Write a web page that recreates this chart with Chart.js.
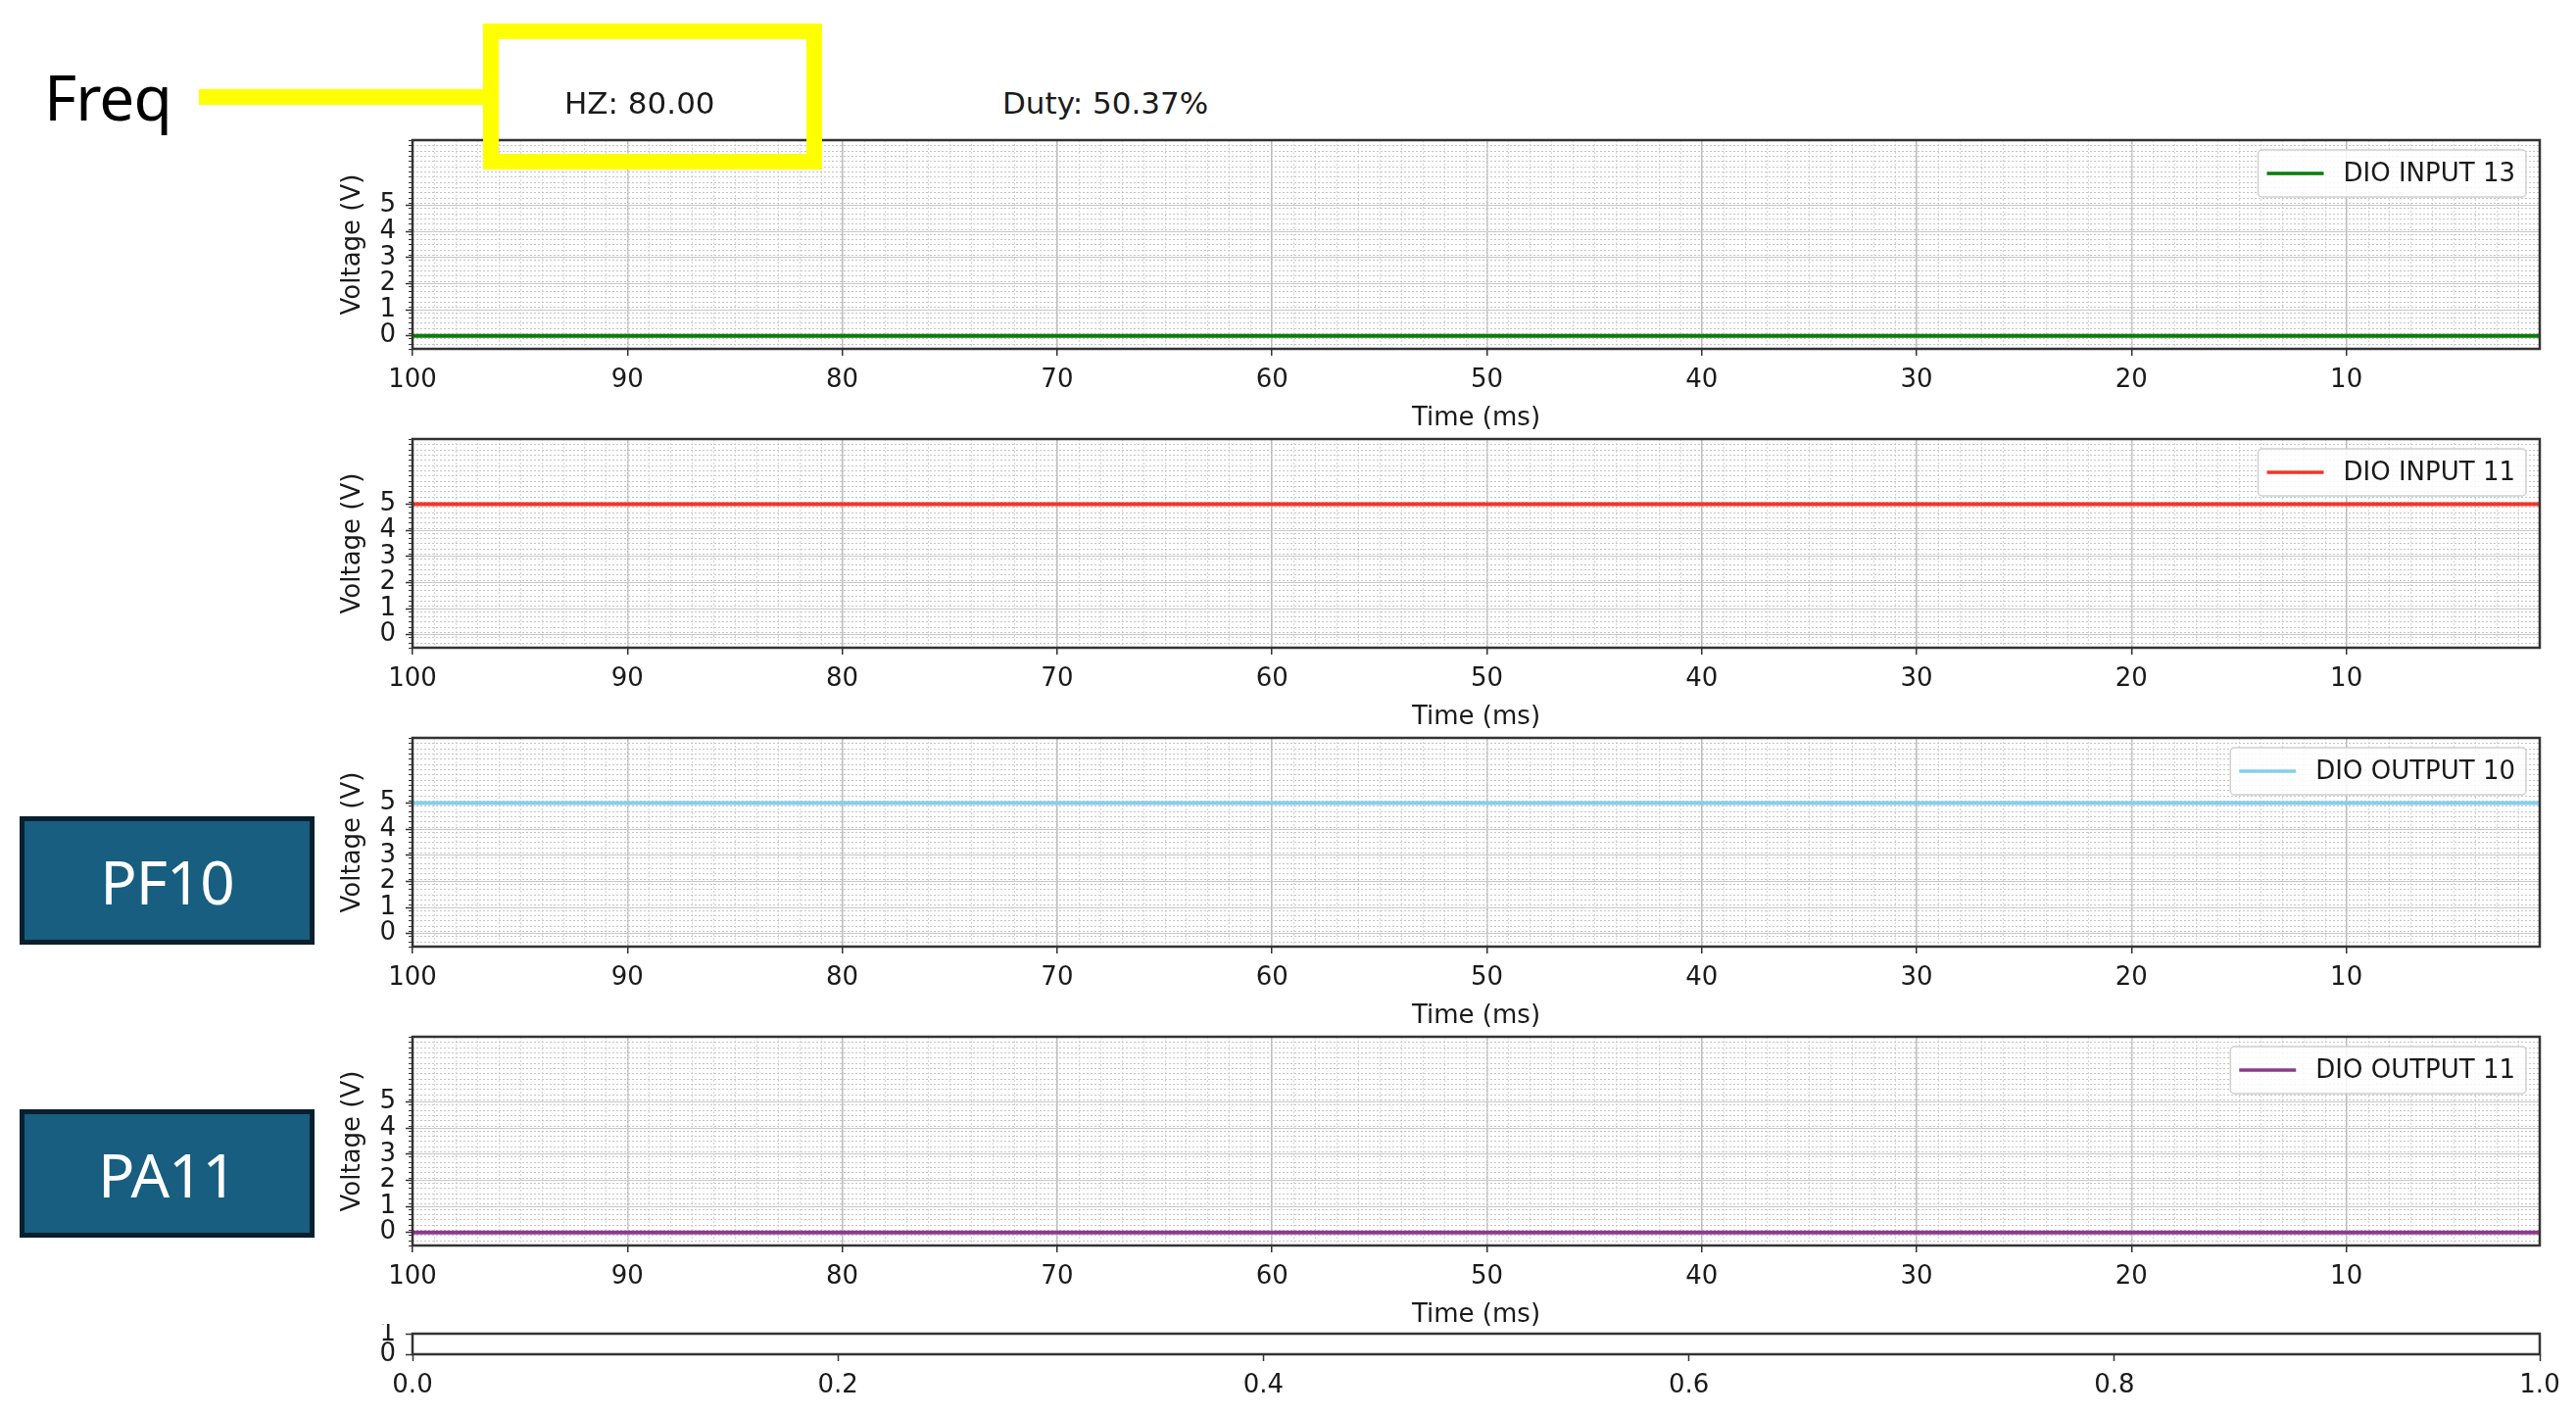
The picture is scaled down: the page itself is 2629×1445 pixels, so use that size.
<!DOCTYPE html>
<html>
<head>
<meta charset="utf-8">
<script src="https://cdn.jsdelivr.net/npm/chart.js@4"></script>
<style>
    body { margin: 0; background: #fff; }
    #page { position: relative; width: 2629px; height: 1445px; overflow: hidden; background: #fff; }
    canvas { position: absolute; }
    .note { position: absolute; white-space: nowrap; line-height: 1; }
    .freq { left: 45px; top: 55px; font: 64px "Noto Sans", sans-serif; color: #000; letter-spacing: -1px; }
    .readout { top: 87px; font: 31px "DejaVu Sans", sans-serif; color: #1a1a1a; }
    .yellowLine { position: absolute; left: 203px; top: 91px; width: 292px; height: 16px; background: #ffff00; }
    .yellowBox { position: absolute; left: 493px; top: 24px; width: 346px; height: 149px; border: 16px solid #ffff00; box-sizing: border-box; }
    .pin { position: absolute; left: 20px; width: 301px; height: 131px; box-sizing: border-box; background: #175e80; border: 5px solid #0a1f2e;
           color: #fff; font: 62px "Noto Sans", sans-serif; letter-spacing: -1px; display: flex; align-items: center; justify-content: center; }
</style>
</head>
<body>
<div id="page">
    <canvas id="panel0"></canvas>
    <canvas id="panel1"></canvas>
    <canvas id="panel2"></canvas>
    <canvas id="panel3"></canvas>
    <canvas id="panelBottom"></canvas>
    <div class="note freq">Freq</div>
    <div class="yellowLine"></div>
    <div class="yellowBox"></div>
    <div class="note readout" id="hzText" style="left:576px"></div>
    <div class="note readout" id="dutyText" style="left:1023px"></div>
    <div class="pin" style="top:833px">PF10</div>
    <div class="pin" style="top:1132px">PA11</div>
</div>
<script>
// Data
const timeMs = [100, 90, 80, 70, 60, 50, 40, 30, 20, 10, 1];
const dioInput13 = [0, 0, 0, 0, 0, 0, 0, 0, 0, 0, 0];
const dioInput11 = [5, 5, 5, 5, 5, 5, 5, 5, 5, 5, 5];
const dioOutput10 = [5, 5, 5, 5, 5, 5, 5, 5, 5, 5, 5];
const dioOutput11 = [0, 0, 0, 0, 0, 0, 0, 0, 0, 0, 0];
const seriesLabels = ['DIO INPUT 13', 'DIO INPUT 11', 'DIO OUTPUT 10', 'DIO OUTPUT 11'];

const timeTicks = [100, 90, 80, 70, 60, 50, 40, 30, 20, 10];
const voltTicks = [0, 1, 2, 3, 4, 5];
const bottomXTicks = [0.0, 0.2, 0.4, 0.6, 0.8, 1.0];
const bottomYTicks = [0, 1];

const freqText = 'HZ: 80.00';
const dutyText = 'Duty: 50.37%';

// Styles
const seriesColors = ['#0a7d0a', '#f2352a', '#87ceeb', '#8b3a8b'];
const textColor = '#1a1a1a';
const frameColor = '#333333';

document.getElementById('hzText').textContent = freqText;
document.getElementById('dutyText').textContent = dutyText;

Chart.defaults.font.family = '"DejaVu Sans", sans-serif';
Chart.defaults.font.size = 26;
Chart.defaults.color = textColor;

// axes keep exactly the box we give them (no extra room for edge labels)
function fixWidth(w) {
    return scale => { scale.width = w; scale.paddingTop = 0; scale.paddingBottom = 0; };
}
function fixHeight(h) {
    return scale => { scale.height = h; scale.paddingLeft = 0; scale.paddingRight = 0; };
}

// minor dotted grid, minor ticks, the full axes frame and the boxed legend
const scopeFrame = {
    id: 'scopeFrame',
    beforeDatasetsDraw(chart, args, opts) {
        const { ctx, chartArea: a, scales: { x, y } } = chart;
        if (!opts.minor) return;
        ctx.save();
        ctx.beginPath();
        ctx.rect(a.left, a.top, a.width, a.height);
        ctx.clip();
        ctx.lineWidth = 1;
        ctx.setLineDash([2, 2]);
        ctx.strokeStyle = '#d6d6d6';
        for (let v = Math.ceil(x.min); v <= x.max; v += opts.xStep) {
            const px = Math.round(x.getPixelForValue(v)) + 0.5;
            ctx.beginPath();
            ctx.moveTo(px, a.top);
            ctx.lineTo(px, a.bottom);
            ctx.stroke();
        }
        ctx.strokeStyle = '#c4c4c4';
        for (let v = y.min; v <= y.max + 1e-6; v += opts.yStep) {
            const py = Math.round(y.getPixelForValue(v)) + 0.5;
            ctx.beginPath();
            ctx.moveTo(a.left, py);
            ctx.lineTo(a.right, py);
            ctx.stroke();
        }
        ctx.restore();
    },
    afterDatasetsDraw(chart, args, opts) {
        const { ctx, chartArea: a, scales: { y } } = chart;
        ctx.save();
        if (opts.minor) {
            ctx.strokeStyle = frameColor;
            ctx.lineWidth = 1;
            for (let v = y.min; v <= y.max + 1e-6; v += opts.yStep) {
                const py = Math.round(y.getPixelForValue(v)) + 0.5;
                ctx.beginPath();
                ctx.moveTo(a.left - 4, py);
                ctx.lineTo(a.left, py);
                ctx.stroke();
            }
        }
        ctx.strokeStyle = frameColor;
        ctx.lineWidth = 2.5;
        ctx.strokeRect(a.left, a.top, a.width, a.height);
        ctx.restore();
    },
    afterDraw(chart) {
        const ds = chart.data.datasets[0];
        if (!ds) return;
        const { ctx, chartArea: a } = chart;
        ctx.save();
        ctx.font = Chart.defaults.font.size + 'px "DejaVu Sans"';
        const textW = ctx.measureText(ds.label).width;
        const w = 9 + 58 + 20 + textW + 11, h = 48;
        const left = a.right - 14 - w, top = a.top + 10;
        ctx.beginPath();
        ctx.roundRect(left, top, w, h, 4);
        ctx.fillStyle = 'rgba(255,255,255,0.85)';
        ctx.fill();
        ctx.strokeStyle = '#d0d0d0';
        ctx.lineWidth = 1.5;
        ctx.stroke();
        ctx.strokeStyle = ds.borderColor;
        ctx.lineWidth = 3.5;
        ctx.beginPath();
        ctx.moveTo(left + 9, top + h / 2);
        ctx.lineTo(left + 67, top + h / 2);
        ctx.stroke();
        ctx.fillStyle = textColor;
        ctx.textBaseline = 'middle';
        ctx.fillText(ds.label, left + 87, top + h / 2 + 1);
        ctx.restore();
    }
};

function placeCanvas(id, left, top, width, height) {
    const c = document.getElementById(id);
    c.width = width;
    c.height = height;
    c.style.left = left + 'px';
    c.style.top = top + 'px';
    return c.getContext('2d');
}

const plotTops = [143, 448, 753, 1058];
const allSeries = [dioInput13, dioInput11, dioOutput10, dioOutput11];

plotTops.forEach((plotTop, i) => {
    const ctx = placeCanvas('panel' + i, 345, plotTop - 10, 2260, 310);
    new Chart(ctx, {
        type: 'line',
        data: {
            datasets: [{
                label: seriesLabels[i],
                data: timeMs.map((t, k) => ({ x: t, y: allSeries[i][k] })),
                borderColor: seriesColors[i],
                borderWidth: 4,
                pointRadius: 0,
                tension: 0
            }]
        },
        options: {
            responsive: false,
            animation: false,
            layout: { padding: { top: 10, right: 13, left: 0, bottom: 0 } },
            plugins: {
                legend: { display: false },
                tooltip: { enabled: false },
                scopeFrame: { minor: true, xStep: 1, yStep: 0.2 }
            },
            scales: {
                x: {
                    type: 'linear',
                    reverse: true,
                    min: 1,
                    max: 100,
                    afterBuildTicks: scale => { scale.ticks = timeTicks.map(v => ({ value: v })); },
                    afterFit: fixHeight(87),
                    ticks: { padding: 10, maxRotation: 0, autoSkip: false },
                    grid: { color: '#bdbdbd', lineWidth: 1.5, tickLength: 7, tickColor: frameColor, tickWidth: 1.5 },
                    border: { display: false },
                    title: { display: true, text: 'Time (ms)', padding: 0 }
                },
                y: {
                    min: -0.5,
                    max: 7.5,
                    afterBuildTicks: scale => { scale.ticks = voltTicks.map(v => ({ value: v })); },
                    afterFit: fixWidth(76),
                    ticks: { padding: 10, autoSkip: false },
                    grid: { color: '#c8c8c8', lineWidth: 1, tickLength: 7, tickColor: frameColor, tickWidth: 1.5 },
                    border: { display: false },
                    title: { display: true, text: 'Voltage (V)', padding: 0 }
                }
            }
        },
        plugins: [scopeFrame]
    });
});

// the thin empty axes at the bottom of the figure
const bottomCtx = placeCanvas('panelBottom', 345, 1351, 2284, 81);
new Chart(bottomCtx, {
    type: 'line',
    data: { datasets: [] },
    options: {
        responsive: false,
        animation: false,
        layout: { padding: { top: 10, right: 37, left: 0, bottom: 0 } },
        plugins: { legend: { display: false }, tooltip: { enabled: false }, scopeFrame: { minor: false } },
        scales: {
            x: {
                type: 'linear',
                min: 0,
                max: 1,
                afterBuildTicks: scale => { scale.ticks = bottomXTicks.map(v => ({ value: v })); },
                afterFit: fixHeight(50),
                ticks: { padding: 10, maxRotation: 0, autoSkip: false, callback: v => v.toFixed(1) },
                grid: { drawOnChartArea: false, tickLength: 7, tickColor: frameColor, tickWidth: 1.5 },
                border: { display: false }
            },
            y: {
                min: 0,
                max: 1,
                afterBuildTicks: scale => { scale.ticks = bottomYTicks.map(v => ({ value: v })); },
                afterFit: fixWidth(76),
                ticks: { padding: 10, autoSkip: false },
                grid: { drawOnChartArea: false, tickLength: 7, tickColor: frameColor, tickWidth: 1.5 },
                border: { display: false }
            }
        }
    },
    plugins: [scopeFrame]
});
</script>
</body>
</html>
